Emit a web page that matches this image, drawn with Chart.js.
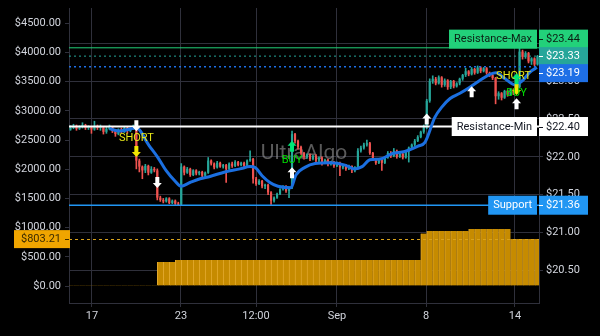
<!DOCTYPE html>
<html><head><meta charset="utf-8">
<script src="https://cdn.jsdelivr.net/npm/chart.js@4.4.1/dist/chart.umd.min.js"></script>
<style>html,body{margin:0;padding:0;background:#000;overflow:hidden}canvas{display:block}</style>
</head><body>
<canvas id="c" width="600" height="336"></canvas>
<script>
// ---------- data ----------
const firstOpen = 22.36;
const closes = [
22.38,22.41,22.37,22.39,22.42,22.38,22.39,22.36,22.41,22.38,
22.39,22.33,22.37,22.39,22.34,22.30,22.36,22.33,22.38,22.34,
22.37,22.41,21.95,21.87,21.82,21.88,21.79,21.84,21.82,21.46,
21.43,21.41,21.45,21.39,21.42,21.38,21.37,21.87,21.79,21.84,
21.76,21.82,21.78,21.80,21.75,21.79,21.95,21.91,21.86,21.92,
21.87,21.89,21.84,21.91,21.88,21.93,21.89,21.92,21.88,21.95,
21.97,21.71,21.64,21.68,21.61,21.63,21.53,21.42,21.46,21.51,
21.57,21.61,21.55,21.59,22.30,22.21,22.13,22.05,22.00,22.03,
21.97,22.01,21.95,21.99,21.92,21.96,21.91,21.93,21.88,21.92,
21.86,21.89,21.84,21.88,21.82,21.86,22.08,22.12,22.16,22.18,
22.05,21.97,21.92,21.96,21.92,21.99,22.05,22.01,22.08,22.00,
22.04,21.99,22.07,22.12,22.16,22.21,22.26,22.33,22.39,22.74,
23.00,23.03,22.97,23.05,22.95,23.01,22.92,23.00,22.93,22.97,
23.03,23.08,23.13,23.09,23.16,23.11,23.18,23.13,23.17,23.11,
23.08,23.04,22.80,22.84,22.78,22.87,22.82,22.89,22.84,22.92,
23.39,23.32,23.37,23.26,23.30,23.22,23.33];
const highs = [
22.41,22.43,22.42,22.41,22.45,22.43,22.41,22.40,22.47,22.42,
22.42,22.40,22.39,22.42,22.40,22.35,22.37,22.38,22.39,22.39,
22.38,22.42,22.42,21.97,21.88,21.90,21.89,21.87,21.86,21.84,
21.48,21.45,21.46,21.46,21.43,21.43,21.40,21.91,21.88,21.86,
21.85,21.83,21.83,21.81,21.81,21.80,21.99,21.96,21.92,21.94,
21.93,21.90,21.90,21.92,21.93,21.95,21.94,21.93,21.93,21.96,
22.08,21.98,21.73,21.70,21.69,21.64,21.64,21.54,21.47,21.52,
21.58,21.62,21.62,21.60,22.34,22.31,22.22,22.14,22.06,22.04,
22.04,22.02,22.03,22.00,22.00,21.97,21.97,21.94,21.94,21.93,
21.93,21.90,21.90,21.89,21.88,21.87,22.11,22.14,22.18,22.22,
22.19,22.06,21.98,21.97,21.97,22.00,22.07,22.07,22.11,22.09,
22.05,22.05,22.08,22.13,22.17,22.23,22.28,22.34,22.42,22.76,
23.03,23.07,23.05,23.07,23.06,23.03,23.02,23.01,23.01,22.98,
23.04,23.09,23.17,23.14,23.18,23.17,23.20,23.19,23.18,23.18,
23.12,23.09,23.05,22.86,22.85,22.88,22.88,22.90,22.90,22.93,
23.44,23.41,23.39,23.38,23.31,23.31,23.34];
const lows = [
22.35,22.37,22.35,22.36,22.38,22.36,22.36,22.31,22.35,22.36,
22.35,22.30,22.31,22.36,22.32,22.27,22.29,22.31,22.32,22.31,
22.33,22.36,21.84,21.80,21.71,21.79,21.76,21.78,21.80,21.43,
21.41,21.39,21.40,21.38,21.38,21.37,21.36,21.36,21.76,21.78,
21.74,21.75,21.76,21.76,21.73,21.74,21.78,21.89,21.84,21.85,
21.86,21.85,21.66,21.83,21.86,21.87,21.88,21.88,21.86,21.87,
21.94,21.65,21.62,21.63,21.59,21.58,21.50,21.37,21.40,21.45,
21.50,21.56,21.53,21.46,21.58,22.18,22.10,22.03,21.97,21.98,
21.95,21.96,21.93,21.93,21.89,21.91,21.88,21.89,21.86,21.87,
21.75,21.84,21.82,21.83,21.79,21.80,21.85,22.06,22.10,22.14,
22.03,21.95,21.90,21.91,21.82,21.91,21.98,21.99,22.00,21.98,
21.99,21.97,21.98,21.93,22.10,22.14,22.20,22.25,22.31,22.37,
22.72,22.97,22.95,22.96,22.92,22.93,22.89,22.90,22.91,22.92,
22.95,23.01,23.06,23.07,23.08,23.09,23.10,23.11,23.12,23.09,
23.06,23.02,22.70,22.76,22.75,22.77,22.80,22.81,22.82,22.83,
22.91,23.29,23.30,23.24,23.22,23.20,23.21];

// equity (left axis), one value per pair of candles
const equity = [
15,15,15,15,15,15,15,15,15,15,15,15,15,15,15,
411,411,411,
445,445,445,445,445,445,445,445,445,445,445,445,445,445,445,445,445,445,445,445,
445,445,445,445,445,445,445,445,445,445,445,445,445,445,445,445,445,445,445,445,445,
900,
942,942,942,942,942,942,942,
977,977,977,977,977,977,977,
803.21,803.21,803.21,803.21,803.21];
const equityLast = 803.21;

// moving average (candle index, price)
const maIdx = [13,16.5,22,26.2,29.2,31.9,34.9,36.9,39.9,43.3,46.6,51.6,56.6,60,61.6,64,66.6,69.3,73.6,75.3,78.3,81.7,86.7,91.7,95,97.4,100,103.4,107.4,111.7,116.1,118.4,121.7,124.1,126.8,130.1,133.4,136.8,140.1,142.2,145.2,148.5,150.8,153.5,155.8];
const maVal = [22.37,22.34,22.38,22.15,21.99,21.82,21.68,21.61,21.66,21.71,21.74,21.80,21.84,21.87,21.86,21.75,21.66,21.61,21.59,21.76,21.86,21.91,21.92,21.89,21.84,21.87,21.96,21.97,22.04,22.07,22.14,22.19,22.52,22.66,22.77,22.84,22.92,23.01,23.09,23.11,23.03,22.95,23.00,23.12,23.18];

// axis ticks
const xTickIdx = [7.18,36.9,61.97,89.0,118.76,148.48];
const xTickLabels = ['17','23','12:00','Sep','8','14'];
const priceTicks = [20.5,21,21.5,22,22.5,23,23.5];
const equityTicks = [0,500,1000,1500,2000,2500,3000,3500,4000,4500];

// levels
const levelNames = ['Resistance-Max','','','Resistance-Min','Support'];
const levelValues = [23.44,23.33,23.19,22.40,21.36];

// signals (candle index, price)
const exitDownIdx = [22,29];        const exitDownVal = [22.41,21.66];
const exitUpIdx = [74,119,134,149]; const exitUpVal = [21.79,22.50,22.86,22.70];
const shortIdx = [22,149];          const shortVal = [22.07,22.89];
const buyIdx = [74,149];            const buyVal = [22.14,23.03];
const shortTextIdx = [22,148];      const shortTextVal = [22.24,23.07];
const buyTextIdx = [74,149];        const buyTextVal = [21.96,22.84];
const watermark = 'UltraAlgo';

// ---------- styling ----------
const C = {
  grid:'#2f303b', axis:'#2f303b', text:'#d1d4dc',
  up:'#26a69a', down:'#ef5350', ma:'#1b6fe0',
  eq:'#c68b00', eqEdge:'#e2a82c', eqLine:'#d9a21b', eqBox:'#f0a500',
  levelColors:['#22d17a','#26a69a','#1e6fe6','#ffffff','#2196f3'],
  levelText:['#0c1f14','#ffffff','#ffffff','#131722','#ffffff'],
  levelDash:[[],[2,3],[2,3],[],[]],
  levelWidth:[1,1,1.5,2,1.5]
};
Chart.defaults.font.family = 'Roboto';
Chart.defaults.font.size = 11;
Chart.defaults.color = C.text;

const N = closes.length;
const opens = closes.map((c,i)=> i===0 ? firstOpen : closes[i-1]);
const candleColor = i => closes[i] >= opens[i] ? C.up : C.down;

const wickData = closes.map((c,i)=>({x:i, y:[lows[i], highs[i]]}));
const bodyData = closes.map((c,i)=>({x:i, y:[opens[i], c]}));
const eqData = equity.map((v,k)=>({x:2*k, y:v}));
const maData = maIdx.map((x,i)=>({x:x, y:maVal[i]}));

function stack(ys, h){
  const order = ys.map((y,i)=>i).sort((a,b)=>ys[a]-ys[b]);
  let groups = order.map(i=>({items:[i]}));
  const center = g => { const s = g.items.map(i=>ys[i]).sort((a,b)=>a-b); const n=s.length; return n%2 ? s[(n-1)/2] : (s[n/2-1]+s[n/2])/2; };
  let merged = true;
  while (merged){
    merged = false;
    for (let k=0;k<groups.length-1;k++){
      const a=groups[k], b=groups[k+1];
      if (center(a)+a.items.length*h/2 > center(b)-b.items.length*h/2){
        groups.splice(k,2,{items:a.items.concat(b.items)}); merged=true; break;
      }
    }
  }
  const out=[];
  groups.forEach(g=>{ const c=center(g), n=g.items.length; g.items.forEach((i,j)=>{ out[i]=c-(n-1)*h/2+j*h; }); });
  return out;
}

function arrow(ctx, x, y, up, color){
  const s = up ? -1 : 1;
  const tipY = y + s*5.5, baseY = y - s*5.5, hb = tipY - s*5;
  ctx.fillStyle = color;
  ctx.beginPath();
  ctx.moveTo(x-2, baseY); ctx.lineTo(x+2, baseY); ctx.lineTo(x+2, hb);
  ctx.lineTo(x+4.5, hb); ctx.lineTo(x, tipY); ctx.lineTo(x-4.5, hb); ctx.lineTo(x-2, hb);
  ctx.closePath(); ctx.fill();
}

const BODY_DS = 2;
const deco = {
  id:'deco',
  beforeDraw(chart){
    const ctx = chart.ctx; ctx.save(); ctx.fillStyle='#000'; ctx.fillRect(0,0,chart.width,chart.height); ctx.restore();
  },
  beforeDatasetsDraw(chart){
    const ctx = chart.ctx, a = chart.chartArea;
    ctx.save();
    ctx.font = '21px Roboto'; ctx.fillStyle = 'rgba(150,150,150,0.6)';
    ctx.textAlign='center'; ctx.textBaseline='middle';
    ctx.fillText(watermark, (a.left+a.right)/2, (a.top+a.bottom)/2 - 2);
    ctx.restore();
  },
  afterDatasetDraw(chart, args){
    if (args.index !== BODY_DS) return;
    const ctx = chart.ctx, a = chart.chartArea, y = chart.scales.y, yL = chart.scales.yL;
    ctx.save();
    ctx.beginPath(); ctx.rect(a.left, a.top, a.right-a.left, a.bottom-a.top); ctx.clip();
    const ey = Math.round(yL.getPixelForValue(equityLast))+0.5;
    ctx.strokeStyle = C.eqLine; ctx.lineWidth = 1; ctx.setLineDash([3,3]);
    ctx.beginPath(); ctx.moveTo(a.left, ey); ctx.lineTo(a.right, ey); ctx.stroke();
    levelValues.forEach((v,i)=>{
      const py = y.getPixelForValue(v);
      ctx.strokeStyle = C.levelColors[i]; ctx.lineWidth = C.levelWidth[i]; ctx.setLineDash(C.levelDash[i]);
      ctx.beginPath(); ctx.moveTo(a.left, py); ctx.lineTo(a.right, py); ctx.stroke();
    });
    ctx.restore();
  },
  afterDatasetsDraw(chart){
    const ctx = chart.ctx, x = chart.scales.x, y = chart.scales.y;
    ctx.save();
    ctx.font = '11px Roboto'; ctx.textAlign='center'; ctx.textBaseline='middle';
    ctx.fillStyle = '#e6e619';
    shortTextIdx.forEach((i,k)=> ctx.fillText('SHORT', x.getPixelForValue(i), y.getPixelForValue(shortTextVal[k])));
    shortIdx.forEach((i,k)=> arrow(ctx, x.getPixelForValue(i), y.getPixelForValue(shortVal[k]), false, '#f2e600'));
    ctx.fillStyle = '#00e000';
    buyTextIdx.forEach((i,k)=> ctx.fillText('BUY', x.getPixelForValue(i), y.getPixelForValue(buyTextVal[k])));
    buyIdx.forEach((i,k)=> arrow(ctx, x.getPixelForValue(i), y.getPixelForValue(buyVal[k]), true, '#00e676'));
    exitDownIdx.forEach((i,k)=> arrow(ctx, x.getPixelForValue(i), y.getPixelForValue(exitDownVal[k]), false, '#ffffff'));
    exitUpIdx.forEach((i,k)=> arrow(ctx, x.getPixelForValue(i), y.getPixelForValue(exitUpVal[k]), true, '#ffffff'));
    ctx.restore();
  },
  afterDraw(chart){
    const ctx = chart.ctx, a = chart.chartArea, y = chart.scales.y, yL = chart.scales.yL;
    ctx.save();
    ctx.font = '11px Roboto'; ctx.textBaseline='middle';
    const nat = levelValues.map(v=>y.getPixelForValue(v));
    const pos = stack(nat, 17);
    levelValues.forEach((v,i)=>{
      const ly = pos[i], col = C.levelColors[i], tc = C.levelText[i];
      const bh = levelNames[i] ? 19 : 18;
      ctx.fillStyle = col; ctx.fillRect(a.right, ly-bh/2, 49, bh);
      ctx.strokeStyle = tc; ctx.lineWidth = 1; ctx.setLineDash([]);
      ctx.beginPath(); ctx.moveTo(a.right, Math.round(ly)+0.5); ctx.lineTo(a.right+4, Math.round(ly)+0.5); ctx.stroke();
      ctx.fillStyle = tc; ctx.textAlign='left';
      ctx.fillText('$'+v.toFixed(2), a.right+7, ly+0.5);
      if (levelNames[i]){
        const w = ctx.measureText(levelNames[i]).width + 10;
        ctx.fillStyle = col; ctx.fillRect(a.right-2-w, ly-bh/2, w, bh);
        ctx.fillStyle = tc; ctx.textAlign='center';
        ctx.fillText(levelNames[i], a.right-2-w/2, ly+0.5);
      }
    });
    const ey = yL.getPixelForValue(equityLast);
    ctx.fillStyle = C.eqBox; ctx.fillRect(14, ey-9, a.left-14+1, 18);
    ctx.strokeStyle = '#3a2a00'; ctx.beginPath(); ctx.moveTo(a.left-4, Math.round(ey)+0.5); ctx.lineTo(a.left, Math.round(ey)+0.5); ctx.stroke();
    ctx.fillStyle = '#3a2a00'; ctx.textAlign='right';
    ctx.fillText('$'+equityLast.toFixed(2), a.left-8, ey+0.5);
    ctx.restore();
  }
};

new Chart(document.getElementById('c'), {
  type:'bar',
  data:{ datasets:[
    { type:'bar', data:eqData, xAxisID:'xo', yAxisID:'yL', order:4, grouped:false,
      backgroundColor:C.eq, borderColor:C.eqEdge, borderWidth:{left:1,right:0,top:0,bottom:0}, borderSkipped:false,
      categoryPercentage:1, barPercentage:1 },
    { type:'bar', data:wickData, xAxisID:'x', yAxisID:'y', order:3, grouped:false,
      backgroundColor:(c)=>candleColor(c.dataIndex), barThickness:1 },
    { type:'bar', data:bodyData, xAxisID:'x', yAxisID:'y', order:2, grouped:false,
      backgroundColor:(c)=>candleColor(c.dataIndex), categoryPercentage:1, barPercentage:0.72, minBarLength:1 },
    { type:'line', data:maData, xAxisID:'x', yAxisID:'y', order:1,
      borderColor:C.ma, borderWidth:3, pointRadius:0, cubicInterpolationMode:'monotone', fill:false }
  ]},
  options:{
    responsive:false, devicePixelRatio:1, animation:false,
    layout:{ padding:{ top:8, left:0, right:0, bottom:0 } },
    plugins:{ legend:{display:false}, tooltip:{enabled:false} },
    scales:{
      x:{ type:'linear', position:'bottom', min:-0.5, max:N-0.5, offset:false,
        afterBuildTicks:(s)=>{ s.ticks = xTickIdx.map(v=>({value:v})); },
        afterFit:(s)=>{ s.height = 33; s.paddingLeft=0; s.paddingRight=0; },
        grid:{ color:C.grid, tickLength:4, tickColor:C.grid, offset:false },
        border:{ color:C.axis },
        ticks:{ autoSkip:false, maxRotation:0, padding:3, color:C.text, callback:(v,i)=>xTickLabels[i] } },
      xo:{ type:'linear', display:false, min:-0.5, max:N-0.5, offset:false, grid:{offset:false},
        afterBuildTicks:(s)=>{ s.ticks = xTickIdx.map(v=>({value:v})); } },
      yL:{ type:'linear', position:'left', min:-291.2, max:4762.7,
        afterBuildTicks:(s)=>{ s.ticks = equityTicks.map(v=>({value:v})); },
        afterFit:(s)=>{ s.width = 69; s.paddingTop=0; s.paddingBottom=0; },
        grid:{ drawOnChartArea:false, tickLength:4, color:C.grid },
        border:{ color:C.axis },
        ticks:{ autoSkip:false, padding:4, color:C.text, callback:(v)=>'$'+Number(v).toFixed(2) } },
      y:{ type:'linear', position:'right', min:20.068, max:23.966,
        afterBuildTicks:(s)=>{ s.ticks = priceTicks.map(v=>({value:v})); },
        afterFit:(s)=>{ s.width = 61; s.paddingTop=0; s.paddingBottom=0; },
        grid:{ color:C.grid, tickLength:4 },
        border:{ color:C.axis },
        ticks:{ autoSkip:false, padding:3, color:C.text, callback:(v)=>'$'+Number(v).toFixed(2) } }
    }
  },
  plugins:[deco]
});
</script>
</body></html>
